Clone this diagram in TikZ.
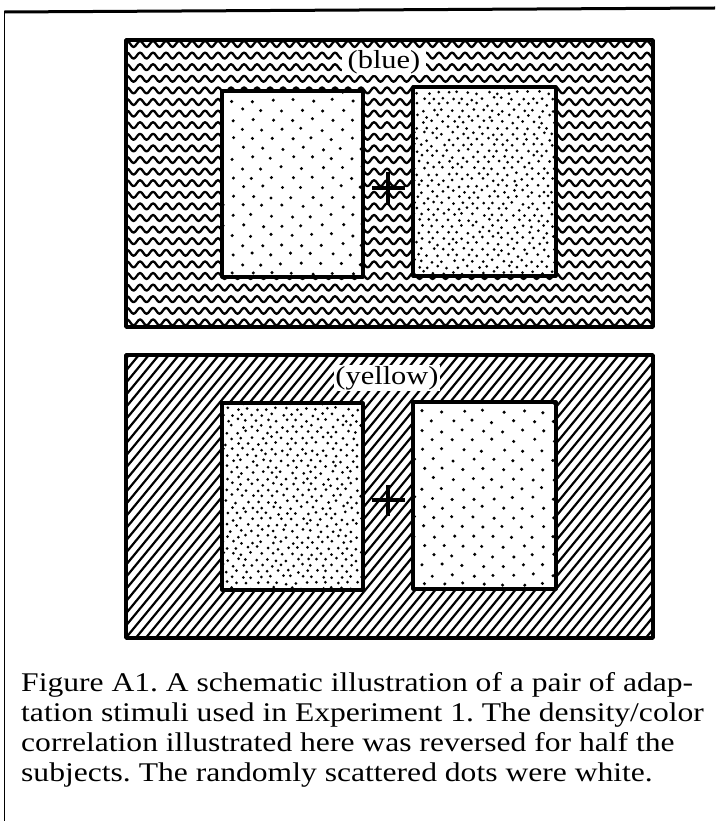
\documentclass[tikz,border=0pt]{standalone}
\usepackage{fontspec}
\setmainfont{Liberation Serif}[FakeStretch=1.17]
\usetikzlibrary{decorations.pathmorphing}
\frenchspacing
\begin{document}
\begin{tikzpicture}[x=1pt,y=-1pt,line join=round,
		panel/.style={line width=3.8pt},
		stim/.style={line width=3.2pt},
		wave/.style={line width=2.3pt,decorate,decoration={snake,segment length=13pt,amplitude=3pt}},
		hatch/.style={line width=2.2pt},
		fix/.style={line width=4.5pt},
		lbl/.style={fill=white,inner sep=1.5pt,font=\fontsize{26}{26}\selectfont},
		capline/.style={anchor=base west,inner sep=0pt,font=\fontsize{27}{30}\selectfont}]
	\useasboundingbox (0,0) rectangle (715,821);
	% frame of the page
	\draw[line width=3pt] (4.5,12) -- (715,8);
	\draw[line width=1.5pt] (4.5,11) -- (4.5,821);
	% top panel: wavy background
	\begin{scope}
		\clip (126,40) rectangle (653,327);
		\foreach \y in {44,55.6,...,335} \draw[wave] (110,\y) -- (670,\y);
	\end{scope}
	\draw[panel] (126,40) rectangle (653,327);
	% bottom panel: hatched background
	\begin{scope}
		\clip (126,355) rectangle (653,638);
		\foreach \x in {-130,-120,...,660} \draw[hatch] (\x,645) -- ++(243,-295);
	\end{scope}
	\draw[panel] (126,355) rectangle (653,638);
	% dotted stimuli
	\pgfmathsetseed{11}
	\foreach \xa/\ya/\xb/\yb/\dx/\dy/\rr in {222/91/363/277/20/9.6/1.7, 413/87/556/276/10/5.8/1.5, 222/403/363/590/10/5.8/1.5, 413/402/556/589/20/9.6/1.7}{
		\fill[white] (\xa,\ya) rectangle (\xb,\yb);
		\begin{scope}
			\clip (\xa,\ya) rectangle (\xb,\yb);
			\pgfmathtruncatemacro\nr{(\yb-\ya)/\dy+1}
			\pgfmathtruncatemacro\nc{(\xb-\xa)/\dx+1}
			\foreach \r in {0,...,\nr}
				\foreach \c in {0,...,\nc}{
					\pgfmathsetmacro\px{\xa+\c*\dx+mod(\r,2)*\dx/2+rand*1.8}
					\pgfmathsetmacro\py{\ya+\r*\dy+rand*1.5}
					\fill (\px,\py) circle (\rr);
				}
		\end{scope}
		\draw[stim] (\xa,\ya) rectangle (\xb,\yb);
	}
	% fixation crosses
	\draw[fix] (372,188) -- (405,188) (388,172) -- (388,204);
	\draw[fix] (372,500) -- (405,500) (388,485) -- (388,516);
	% colour labels
	\node[lbl,inner xsep=6pt] (blue) at (384,62) {(blue)};
	\node[lbl] (yellow) at (387,378) {(yellow)};
	% caption
	\node[capline] (cap1) at (21,691) {Figure A1. A schematic illustration of a pair of adap-};
	\node[capline] (cap2) at (21,721) {tation stimuli used in Experiment 1. The density/color};
	\node[capline] (cap3) at (21,751) {correlation illustrated here was reversed for half the};
	\node[capline] (cap4) at (21,781) {subjects. The randomly scattered dots were white.};
\end{tikzpicture}
\end{document}
